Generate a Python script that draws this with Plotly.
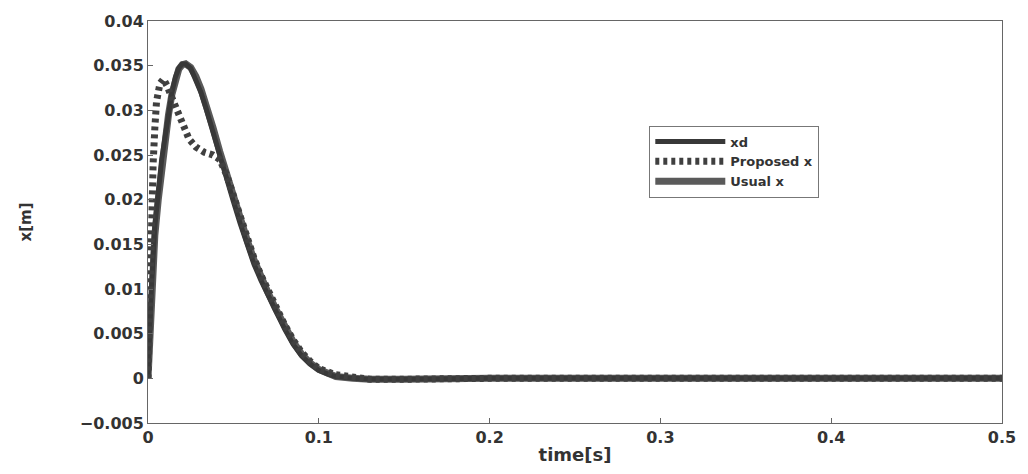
import plotly.graph_objects as go

# time axis samples and series values
t_xd = [0, 0.001, 0.002, 0.004, 0.006, 0.008, 0.010, 0.012, 0.014, 0.016, 0.018, 0.020, 0.022,
        0.025, 0.028, 0.031, 0.034, 0.038, 0.042, 0.046, 0.050, 0.054, 0.058, 0.062, 0.066,
        0.070, 0.075, 0.080, 0.085, 0.090, 0.095, 0.100, 0.105, 0.110, 0.120, 0.130, 0.150,
        0.170, 0.200, 0.300, 0.400, 0.500]
y_xd = [0, 0.006, 0.010, 0.017, 0.021, 0.0245, 0.027, 0.030, 0.032, 0.0337, 0.0347, 0.0352, 0.0352,
        0.0347, 0.0335, 0.0320, 0.0302, 0.0275, 0.0248, 0.0222, 0.0198, 0.0173, 0.0150, 0.0128, 0.0110,
        0.0094, 0.0074, 0.0055, 0.0038, 0.0025, 0.0016, 0.0009, 0.0005, 0.0002, 0.0, -0.0001, -0.0001,
        -0.00005, 0, 0, 0, 0]

t_prop = [0, 0.001, 0.002, 0.003, 0.004, 0.005, 0.007, 0.009, 0.011, 0.014, 0.017, 0.020, 0.024,
          0.028, 0.033, 0.038, 0.042, 0.046, 0.050, 0.054, 0.058, 0.062, 0.066, 0.070, 0.075,
          0.080, 0.085, 0.090, 0.095, 0.100, 0.110, 0.120, 0.130, 0.150, 0.200, 0.300, 0.400, 0.500]
y_prop = [0, 0.010, 0.018, 0.024, 0.028, 0.031, 0.0330, 0.0335, 0.0328, 0.0315, 0.0300, 0.0285, 0.0268,
          0.0259, 0.0253, 0.0250, 0.0245, 0.0228, 0.0204, 0.0180, 0.0157, 0.0135, 0.0116, 0.0099, 0.0079,
          0.0060, 0.0043, 0.0029, 0.0019, 0.0011, 0.0004, 0.0001, -0.0001, -0.0001, 0, 0, 0, 0]

t_usual = [0, 0.001, 0.002, 0.004, 0.006, 0.008, 0.010, 0.012, 0.014, 0.016, 0.018, 0.020, 0.022,
           0.025, 0.028, 0.031, 0.034, 0.038, 0.042, 0.046, 0.050, 0.054, 0.058, 0.062, 0.066,
           0.070, 0.075, 0.080, 0.085, 0.090, 0.095, 0.100, 0.105, 0.110, 0.120, 0.130, 0.150,
           0.170, 0.200, 0.300, 0.400, 0.500]
y_usual = [0, 0.005, 0.009, 0.016, 0.020, 0.0238, 0.0265, 0.0295, 0.0318, 0.0335, 0.0346, 0.0351, 0.0352,
           0.0348, 0.0338, 0.0324, 0.0307, 0.0281, 0.0254, 0.0228, 0.0204, 0.0178, 0.0155, 0.0133, 0.0114,
           0.0097, 0.0077, 0.0058, 0.0041, 0.0027, 0.0017, 0.0010, 0.0005, 0.0002, 0.0, -0.0001, -0.0001,
           -0.00005, 0, 0, 0, 0]

x_ticks = [0, 0.1, 0.2, 0.3, 0.4, 0.5]
x_ticktext = ["0", "0.1", "0.2", "0.3", "0.4", "0.5"]
y_ticks = [-0.005, 0, 0.005, 0.01, 0.015, 0.02, 0.025, 0.03, 0.035, 0.04]
y_ticktext = ["\u22120.005", "0", "0.005", "0.01", "0.015", "0.02", "0.025", "0.03", "0.035", "0.04"]

FONT = "DejaVu Sans"
TXT = "#333333"

fig = go.Figure()
fig.add_trace(go.Scatter(x=t_usual, y=y_usual, mode="lines", name="Usual x", legendrank=3,
                         line=dict(color="#5a5a5a", width=7)))
fig.add_trace(go.Scatter(x=t_xd, y=y_xd, mode="lines", name="xd", legendrank=1,
                         line=dict(color="#383838", width=5)))
fig.add_trace(go.Scatter(x=t_prop, y=y_prop, mode="lines", name="Proposed x", legendrank=2,
                         line=dict(color="#404040", width=7, dash="4px,4px")))

axis_common = dict(showline=True, linecolor="#666666", linewidth=1, mirror=True,
                   ticks="inside", ticklen=5, tickcolor="#666666", showgrid=False, zeroline=False,
                   tickfont=dict(family=FONT, size=16, color=TXT, weight="bold"))

fig.update_xaxes(range=[0, 0.5], tickvals=x_ticks, ticktext=x_ticktext,
                 title=dict(text="time[s]", font=dict(family=FONT, size=18, color=TXT, weight="bold"),
                            standoff=2),
                 **axis_common)
fig.update_yaxes(range=[-0.005, 0.04], tickvals=y_ticks, ticktext=y_ticktext,
                 title=dict(text="x[m]", font=dict(family=FONT, size=15, color=TXT, weight="bold"),
                            standoff=44),
                 **axis_common)

fig.update_layout(
    width=1028, height=474,
    margin=dict(l=148, r=16, t=16, b=46),
    paper_bgcolor="white", plot_bgcolor="white",
    showlegend=True,
    legend=dict(x=0.587, y=0.74, xanchor="left", yanchor="top",
                bgcolor="white", bordercolor="#777777", borderwidth=1,
                font=dict(family=FONT, size=13, color=TXT, weight="bold"),
                tracegroupgap=0, itemwidth=70, entrywidth=160,
                ),
)

fig.write_html("out.html")
